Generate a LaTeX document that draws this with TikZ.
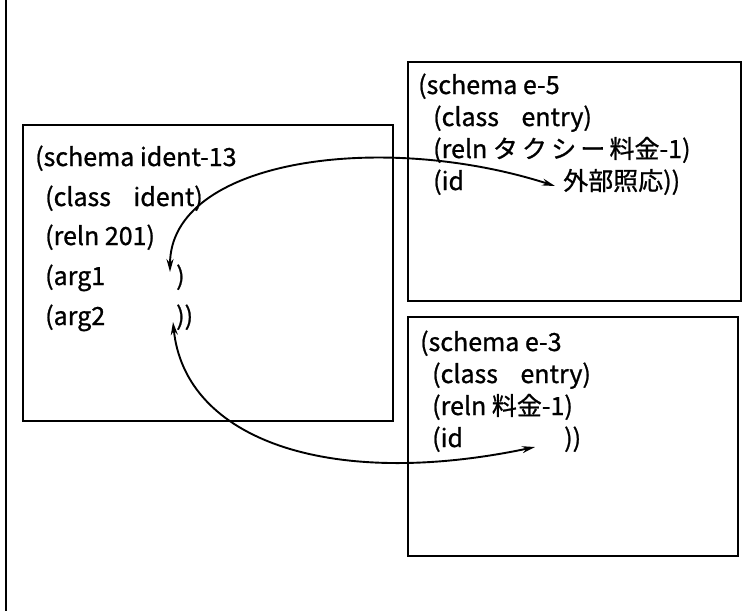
\documentclass[tikz,border=0pt]{standalone}
\usepackage{fontspec}
\newfontfamily\jpfont[FakeBold=0.9]{Noto Sans CJK JP}
\usetikzlibrary{arrows.meta}
\tikzset{
  schemabox/.style={
    draw=black,
    line width=2pt,
    inner sep=0pt
  },
  entry/.style={
    anchor=base west,
    inner sep=0pt,
    font=\jpfont\fontsize{25}{30}\selectfont
  },
  link/.style={{Stealth[length=13pt,width=7pt]}-{Stealth[length=13pt,width=7pt]}, line width=1.9pt},
  frame/.style={line width=2pt}
}
\newcommand{\gap}{\hspace{0.9em}}

\begin{document}
\begin{tikzpicture}[x=1pt, y=-1pt]
  \useasboundingbox (0,0) rectangle (743,611);
  \draw[frame] (6,0) -- (6,611);
  % boxes
  \node[schemabox, minimum width=370pt, minimum height=296pt] (identbox) at (208,273) {};
  \node[schemabox, minimum width=333pt, minimum height=239pt] (ebox5) at (574.5,181.5) {};
  \node[schemabox, minimum width=330pt, minimum height=239pt] (ebox3) at (573,436.5) {};
  % ident-13
  \node[entry] (i1) at (35,166) {(schema ident-13};
  \node[entry] (i2) at (45,206) {(class\gap ident)};
  \node[entry] (i3) at (45,245) {(reln 201)};
  \node[entry] (i4) at (45,285) {(arg1};
  \node[entry] (i4c) at (176,285) {)};
  \node[entry] (i5) at (45,325) {(arg2};
  \node[entry] (i5c) at (176,325) {))};
  % e-5
  \node[entry] (a1) at (418,94) {(schema e-5};
  \node[entry] (a2) at (433,126) {(class\gap entry)};
  \node[entry] (a3) at (433,158) {(reln タ\,ク\,シ\,ー\,料金-1)};
  \node[entry] (a4) at (433,190) {(id};
  \node[entry] (a4c) at (563,190) {外部照応))};
  % e-3
  \node[entry] (b1) at (420,351) {(schema e-3};
  \node[entry] (b2) at (432,383) {(class\gap entry)};
  \node[entry] (b3) at (432,415) {(reln 料金-1)};
  \node[entry] (b4) at (432,447) {(id};
  \node[entry] (b4c) at (564,447) {))};
  % slots
  \coordinate (arg1slot) at (170,272);
  \coordinate (arg2slot) at (173,322);
  \coordinate (id5slot) at (555,186);
  \coordinate (id3slot) at (535,447);
  \draw[link] (arg1slot) .. controls (170,160) and (380,130) .. (id5slot);
  \draw[link] (arg2slot) .. controls (185,440) and (330,490) .. (id3slot);
\end{tikzpicture}
\end{document}
